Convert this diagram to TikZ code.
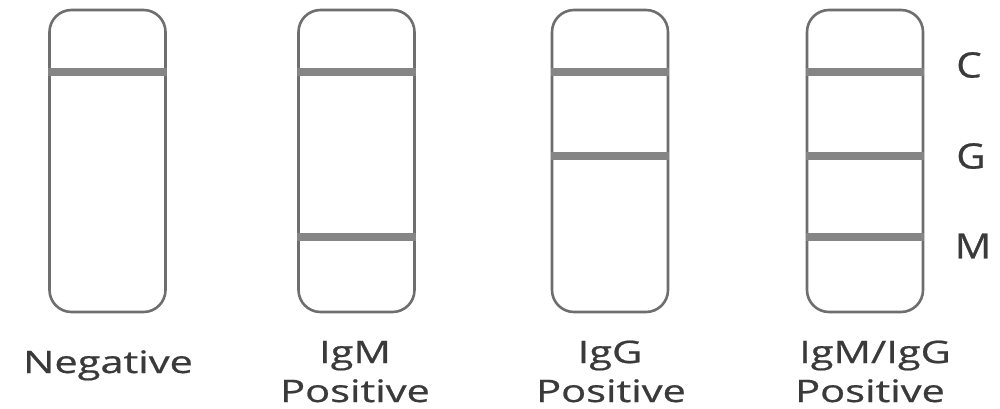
\documentclass[tikz,border=0pt]{standalone}
\usepackage{fontspec}
\setmainfont{Open Sans}
\newfontfamily\lblfont{Open Sans}[FakeBold=0.6]
\definecolor{outl}{HTML}{6E6E6E}
\definecolor{band}{HTML}{858585}
\definecolor{txt}{HTML}{3A3A3A}
\tikzset{
  strip/.style={draw=outl, line width=2.6pt, rounded corners=22pt, minimum width=116pt, minimum height=302pt, inner sep=0pt, fill=white},
  bandline/.style={draw=band, line width=8pt},
  lbl/.style={text=txt, font=\lblfont\fontsize{31}{36}\selectfont, align=center, inner sep=0pt},
  zone/.style={text=txt, font=\lblfont\fontsize{35}{40}\selectfont, inner sep=0pt}
}
\newcommand{\wide}[1]{\scalebox{1.34}[1]{#1}}
\begin{document}
\begin{tikzpicture}[x=1pt,y=-1pt]
\useasboundingbox[fill=white] (0,0) rectangle (1000,409);
\node[strip] (s1) at (107.5,161) {};
\node[strip] (s2) at (356.5,161) {};
\node[strip] (s3) at (610,161) {};
\node[strip] (s4) at (865,161) {};
% bands
\draw[bandline] (s1.west |- 0,72) -- (s1.east |- 0,72);
\draw[bandline] (s2.west |- 0,72) -- (s2.east |- 0,72);
\draw[bandline] (s2.west |- 0,237) -- (s2.east |- 0,237);
\draw[bandline] (s3.west |- 0,72) -- (s3.east |- 0,72);
\draw[bandline] (s3.west |- 0,156) -- (s3.east |- 0,156);
\draw[bandline] (s4.west |- 0,72) -- (s4.east |- 0,72);
\draw[bandline] (s4.west |- 0,156) -- (s4.east |- 0,156);
\draw[bandline] (s4.west |- 0,237) -- (s4.east |- 0,237);
% zone letters
\node[zone] (c) at (969,65) {\scalebox{1.15}[1]{C}};
\node[zone] (g) at (971,156) {\scalebox{1.15}[1]{G}};
\node[zone] (m) at (973,246) {\scalebox{1.15}[1]{M}};
% labels
\node[lbl, anchor=base] (l1) at (108,373) {\wide{Negative}};
\node[lbl, anchor=base] (l2a) at (355,363) {\wide{IgM}};
\node[lbl, anchor=base] (l2b) at (355,402) {\wide{Positive}};
\node[lbl, anchor=base] (l3a) at (610,363) {\wide{IgG}};
\node[lbl, anchor=base] (l3b) at (611,402) {\wide{Positive}};
\node[lbl, anchor=base] (l4a) at (875,363) {\wide{IgM/IgG}};
\node[lbl, anchor=base] (l4b) at (870,402) {\wide{Positive}};
\end{tikzpicture}
\end{document}
